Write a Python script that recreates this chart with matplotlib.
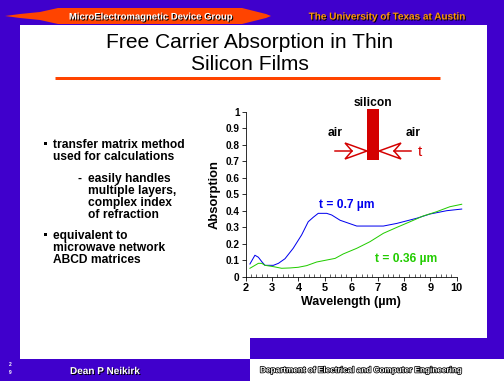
import numpy as np
import matplotlib
matplotlib.use("Agg")
import matplotlib.pyplot as plt
from matplotlib.patches import Rectangle, Polygon
import matplotlib.patheffects as pe
from matplotlib.ticker import MultipleLocator, FixedLocator

plt.rcParams['font.family'] = ['Liberation Sans', 'DejaVu Sans']

# absorption vs wavelength (um)
wl_thick = [2.16, 2.35, 2.48, 2.61, 2.73, 3.05, 3.24, 3.49, 3.80, 4.12, 4.37, 4.56,
            4.75, 5.07, 5.26, 5.58, 6.21, 7.22, 7.73, 8.48, 8.99, 9.62, 10.19]
abs_thick = [0.077, 0.130, 0.118, 0.091, 0.069, 0.069, 0.081, 0.109, 0.172, 0.253, 0.333, 0.360,
             0.384, 0.384, 0.374, 0.342, 0.307, 0.307, 0.323, 0.354, 0.380, 0.400, 0.410]

wl_thin = [2.16, 2.48, 2.61, 2.73, 3.05, 3.36, 3.68, 3.99, 4.31, 4.69, 5.07, 5.39,
           5.70, 6.21, 6.71, 7.22, 7.73, 8.23, 8.73, 9.24, 9.74, 10.19]
abs_thin = [0.051, 0.081, 0.081, 0.069, 0.061, 0.051, 0.053, 0.057, 0.067, 0.089, 0.101, 0.111,
            0.138, 0.172, 0.212, 0.263, 0.299, 0.333, 0.368, 0.394, 0.424, 0.439]

x_ticks = [2, 3, 4, 5, 6, 7, 8, 9, 10]
y_ticks = [0, 0.1, 0.2, 0.3, 0.4, 0.5, 0.6, 0.7, 0.8, 0.9, 1]
y_labels = ["0", "0.1", "0.2", "0.3", "0.4", "0.5", "0.6", "0.7", "0.8", "0.9", "1"]

bullets = [
    (45, 53, 145, ["transfer matrix method", "used for calculations"]),
    (45, 53, 236, ["equivalent to", "microwave network", "ABCD matrices"]),
]
sub_items = ["easily handles", "multiple layers,", "complex index", "of refraction"]

purple = "#4000cc"
orange_red = "#ff4400"
si_red = "#d40000"

fig = plt.figure(figsize=(504 / 72, 381 / 72), dpi=72)
fig.patch.set_facecolor(purple)

# slide background drawn in pixel coordinates
bg = fig.add_axes([0, 0, 1, 1])
bg.set_xlim(0, 504)
bg.set_ylim(381, 0)
bg.axis("off")

bg.add_patch(Rectangle((20, 25), 467, 313, color="white", lw=0))
bg.add_patch(Rectangle((20, 337), 230, 22, color="white", lw=0))
bg.add_patch(Rectangle((250, 359), 254, 22, color="white", lw=0))

# header banner
banner = [(5, 16), (20, 14), (40, 12), (58, 8), (242, 8), (258, 12), (266, 14), (271, 16),
          (266, 18), (258, 20), (242, 24), (58, 24), (40, 20), (20, 18)]
bg.add_patch(Polygon(banner, closed=True, color=orange_red, lw=0))
shadow = [pe.withSimplePatchShadow(offset=(1, -1), shadow_rgbFace="black", alpha=1)]
bg.text(151, 16.5, "MicroElectromagnetic Device Group", color="white", fontsize=9.5,
        fontweight="bold", ha="center", va="center", path_effects=shadow)
bg.text(387, 16.5, "The University of Texas at Austin", color="#ff9900", fontsize=10,
        fontweight="bold", ha="center", va="center", path_effects=shadow)

# title
bg.text(250, 43, "Free Carrier Absorption in Thin", fontsize=21, ha="center", va="center")
bg.text(250, 65, "Silicon Films", fontsize=21, ha="center", va="center")
bg.plot([55, 440], [78, 78], color=orange_red, lw=3, solid_capstyle="butt")

# bullet text
for bx, tx, ty, lines in bullets:
    bg.add_patch(Rectangle((bx - 1.5, ty - 3), 3, 3, color="black", lw=0))
    for i, line in enumerate(lines):
        bg.text(tx, ty + 12 * i, line, fontsize=12, fontweight="bold", va="center")
bg.text(78, 179, "-", fontsize=12, fontweight="bold", va="center")
for i, line in enumerate(sub_items):
    bg.text(88, 179 + 12 * i, line, fontsize=12, fontweight="bold", va="center")

# silicon slab sketch
bg.add_patch(Rectangle((367, 109), 12, 51, color=si_red, lw=0))
bg.text(373, 103, "silicon", fontsize=12, fontweight="bold", ha="center", va="center")
bg.text(335, 133, "air", fontsize=12, fontweight="bold", ha="center", va="center")
bg.text(413, 133, "air", fontsize=12, fontweight="bold", ha="center", va="center")
bg.text(420, 152, "t", fontsize=15, color=si_red, ha="center", va="center")
bg.plot([335, 352], [151, 151], color=si_red, lw=1.5)
bg.add_patch(Polygon([(367, 151), (345, 143), (352, 151), (345, 159)], closed=True,
                     fill=False, edgecolor=si_red, lw=1.5))
bg.plot([394, 411], [151, 151], color=si_red, lw=1.5)
bg.add_patch(Polygon([(379, 151), (401, 143), (394, 151), (401, 159)], closed=True,
                     fill=False, edgecolor=si_red, lw=1.5))

# footer
bg.text(10, 364, "2", color="white", fontsize=5, fontweight="bold", ha="center", va="center")
bg.text(10, 373, "9", color="white", fontsize=5, fontweight="bold", ha="center", va="center")
bg.text(105, 371, "Dean P Neikirk", color="white", fontsize=10, fontweight="bold",
        ha="center", va="center", path_effects=shadow)
bg.text(362, 371, "Department of Electrical and Computer Engineering", color="white",
        fontsize=8.2, fontweight="bold", ha="center", va="center",
        path_effects=[pe.withStroke(linewidth=1.5, foreground="black")])

# the chart
ax = fig.add_axes([245.7 / 504, (381 - 276.7) / 381, 211 / 504, 165 / 381])
ax.patch.set_alpha(0)
ax.plot(wl_thick, abs_thick, color="#0000ee", lw=1, clip_on=False)
ax.plot(wl_thin, abs_thin, color="#22cc00", lw=1, clip_on=False)
ax.set_xlim(2, 10)
ax.set_ylim(0, 1)
for s in ["top", "right"]:
    ax.spines[s].set_visible(False)
ax.xaxis.set_major_locator(FixedLocator(x_ticks))
ax.xaxis.set_minor_locator(MultipleLocator(0.2))
ax.set_yticks(y_ticks)
ax.set_yticklabels(y_labels)
ax.tick_params(axis="x", which="major", direction="out", length=4, labelsize=11, pad=2)
ax.tick_params(axis="x", which="minor", direction="in", length=3)
ax.tick_params(axis="y", which="major", direction="out", length=4, labelsize=10, pad=2)
for lab in ax.get_xticklabels() + ax.get_yticklabels():
    lab.set_fontweight("bold")
ax.set_xlabel("Wavelength (µm)", fontsize=12.5, fontweight="bold", labelpad=3)
ax.set_ylabel("Absorption", fontsize=13, fontweight="bold", labelpad=5)

ax.text(5.85, 0.435, "t = 0.7 µm", color="#0000ee", fontsize=12, fontweight="bold", ha="center", va="center")
ax.text(8.1, 0.107, "t = 0.36 µm", color="#22cc00", fontsize=12, fontweight="bold", ha="center", va="center")

fig.savefig("out.png", dpi=72, facecolor=fig.get_facecolor())
